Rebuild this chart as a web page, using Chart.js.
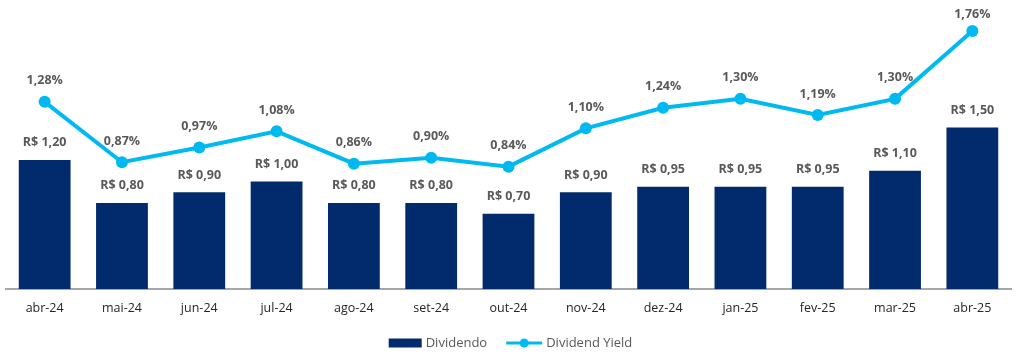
<!DOCTYPE html>
<html><head><meta charset="utf-8">
<script src="https://cdn.jsdelivr.net/npm/chart.js@4/dist/chart.umd.min.js"></script>
<style>html,body{margin:0;padding:0;background:#fff}#wrap{width:1024px;height:358px}</style>
</head><body><div id="wrap"><canvas id="c" width="1024" height="358"></canvas></div>
<script>
const categories = ['abr-24','mai-24','jun-24','jul-24','ago-24','set-24','out-24','nov-24','dez-24','jan-25','fev-25','mar-25','abr-25'];
const dividendo = [1.20,0.80,0.90,1.00,0.80,0.80,0.70,0.90,0.95,0.95,0.95,1.10,1.50];
const dividendYield = [1.28,0.87,0.97,1.08,0.86,0.90,0.84,1.10,1.24,1.30,1.19,1.30,1.76];
const seriesNames = ['Dividendo','Dividend Yield'];

const NAVY = '#022B6D', CYAN = '#00B9F1', FONT = "'Open Sans', sans-serif";
const fmt = v => v.toFixed(2).replace('.', ',');

const labelPlugin = {
  id: 'labels',
  afterDatasetsDraw(chart) {
    const ctx = chart.ctx;
    ctx.save();
    ctx.font = 'bold 12.5px ' + FONT;
    ctx.fillStyle = '#595959';
    ctx.textAlign = 'center';
    ctx.textBaseline = 'middle';
    chart.getDatasetMeta(0).data.forEach((el, i) => {
      ctx.fillText('R$ ' + fmt(dividendo[i]), el.x, el.y - 17);
    });
    chart.getDatasetMeta(1).data.forEach((el, i) => {
      ctx.fillText(fmt(dividendYield[i]) + '%', el.x, Math.max(el.y - 21, 14));
    });
    ctx.restore();
  },
  afterDraw(chart) {
    const ctx = chart.ctx;
    ctx.save();
    ctx.font = '13px ' + FONT;
    const w1 = ctx.measureText(seriesNames[0]).width;
    const w2 = ctx.measureText(seriesNames[1]).width;
    const total = 33 + 4 + w1 + 19 + 36 + 4 + w2;
    let x = 510.5 - total / 2;
    const y = 343;
    ctx.fillStyle = NAVY;
    ctx.fillRect(x, y - 4.5, 33, 9);
    x += 37;
    ctx.fillStyle = '#595959';
    ctx.textBaseline = 'middle';
    ctx.fillText(seriesNames[0], x, y);
    x += w1 + 19;
    ctx.strokeStyle = CYAN; ctx.lineWidth = 3;
    ctx.beginPath(); ctx.moveTo(x, y); ctx.lineTo(x + 36, y); ctx.stroke();
    ctx.fillStyle = CYAN;
    ctx.beginPath(); ctx.arc(x + 18, y, 4.5, 0, Math.PI * 2); ctx.fill();
    x += 40;
    ctx.fillStyle = '#595959';
    ctx.fillText(seriesNames[1], x, y);
    ctx.restore();
  }
};

new Chart(document.getElementById('c'), {
  data: {
    labels: categories,
    datasets: [
      { type: 'bar', label: seriesNames[0], data: dividendo, backgroundColor: NAVY, yAxisID: 'y',
        categoryPercentage: 1, barPercentage: 0.67, order: 1 },
      { type: 'line', label: seriesNames[1], data: dividendYield, borderColor: CYAN, backgroundColor: CYAN,
        borderWidth: 4, pointRadius: 6, pointHoverRadius: 6, pointBackgroundColor: CYAN, pointBorderWidth: 0,
        yAxisID: 'y2', order: 0, tension: 0 }
    ]
  },
  options: {
    responsive: false,
    animation: false,
    layout: { padding: { top: 20, left: 6, right: 13, bottom: 0 } },
    plugins: { legend: { display: false }, tooltip: { enabled: false } },
    scales: {
      x: {
        grid: { display: false, drawTicks: false },
        border: { display: true, color: '#A6A6A6', width: 2 },
        ticks: { color: '#262626', font: { family: FONT, size: 12.5 }, padding: 12, maxRotation: 0 },
        afterFit(axis) { axis.height = 69; }
      },
      y: { display: false, min: 0, max: 2.5 },
      y2: { display: false, min: 0.01, max: 1.835, position: 'right' }
    }
  },
  plugins: [labelPlugin]
});
</script>
</body></html>
